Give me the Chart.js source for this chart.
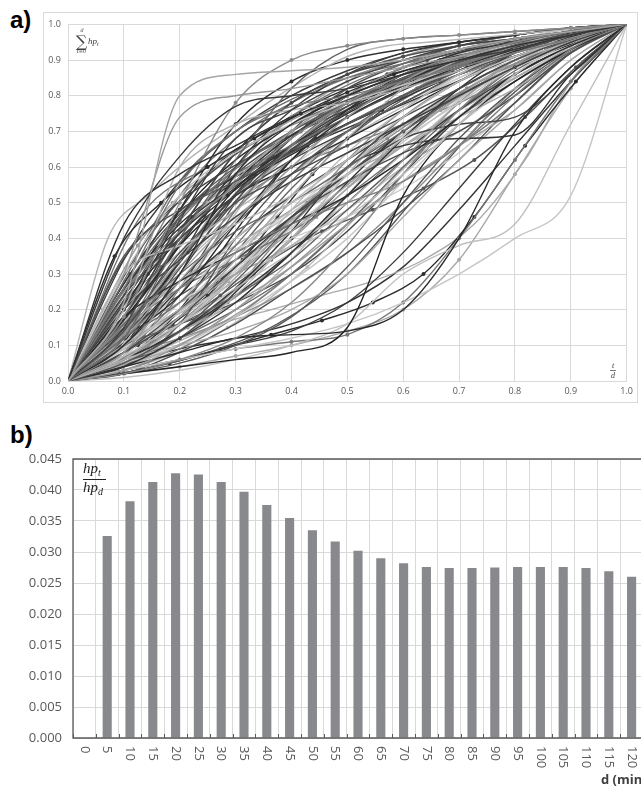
<!DOCTYPE html>
<html>
<head>
<meta charset="utf-8">
<script src="https://cdn.jsdelivr.net/npm/chart.js@4.4.0/dist/chart.umd.min.js"></script>
<style>
html, body { margin: 0; padding: 0; background: #fff; }
body { width: 641px; height: 788px; overflow: hidden; position: relative; }
.lbl { position: absolute; font-family: "Liberation Sans", Arial, sans-serif; font-weight: bold; font-size: 24px; color: #000; }
#wrapA { position: absolute; left: 43px; top: 12px; width: 595px; height: 391px; }
#wrapB { position: absolute; left: 0; top: 440px; width: 680px; height: 348px; }
</style>
</head>
<body>
<div class="lbl" style="left:10px;top:6px">a)</div>
<div class="lbl" style="left:10px;top:421px">b)</div>
<div id="wrapA"><canvas id="chartA" width="595" height="391"></canvas></div>
<div id="wrapB"><canvas id="chartB" width="680" height="348"></canvas></div>
<script>
// ---- panel a : cumulative curves, each sampled at t/d = i/n (n = length - 1)
const axisTicksA = [0, 0.1, 0.2, 0.3, 0.4, 0.5, 0.6, 0.7, 0.8, 0.9, 1.0];

const curves = [
    [0, .22, .80, .86, .87, .88, .90, .93, .96, .98, 1],
    [0, .44, .58, .66, .74, .80, .86, .90, .94, .97, 1],
    [0, .40, .63, .77, .80, .82, .86, .90, .93, .97, 1],
    [0, .30, .74, .80, .82, .85, .88, .91, .94, .97, 1],
    [0, .26, .55, .70, .77, .80, .84, .88, .92, .96, 1],
    [0, .18, .50, .78, .90, .94, .96, .97, .98, .99, 1],
    [0, .12, .40, .62, .82, .93, .96, .97, .98, .99, 1],
    [0, .15, .45, .68, .76, .84, .90, .94, .96, .98, 1],
    [0, .20, .60, .72, .76, .78, .82, .87, .92, .96, 1],
    [0, .35, .48, .56, .64, .72, .80, .87, .92, .96, 1],
    [0, .25, .42, .55, .68, .78, .86, .91, .95, .98, 1],
    [0, .10, .30, .58, .72, .80, .86, .92, .95, .98, 1],
    [0, .08, .28, .45, .60, .74, .84, .91, .95, .98, 1],
    [0, .30, .38, .44, .52, .62, .74, .84, .91, .96, 1],
    [0, .14, .36, .50, .58, .66, .74, .82, .90, .96, 1],
    [0, .12, .22, .38, .56, .70, .80, .88, .94, .97, 1],
    [0, .06, .18, .34, .52, .68, .82, .90, .95, .98, 1],
    [0, .20, .34, .46, .56, .64, .72, .80, .88, .95, 1],
    [0, .09, .22, .40, .50, .58, .68, .78, .88, .95, 1],
    [0, .16, .30, .42, .50, .60, .70, .80, .88, .95, 1],
    [0, .05, .14, .28, .44, .60, .74, .84, .92, .97, 1],
    [0, .10, .20, .30, .42, .55, .68, .80, .90, .96, 1],
    [0, .04, .12, .22, .36, .52, .68, .82, .92, .97, 1],
    [0, .07, .16, .26, .36, .46, .58, .72, .86, .95, 1],
    [0, .12, .26, .36, .44, .50, .56, .66, .80, .93, 1],
    [0, .03, .10, .20, .32, .46, .62, .78, .90, .96, 1],
    [0, .18, .28, .36, .44, .52, .62, .74, .86, .94, 1],
    [0, .06, .12, .24, .40, .58, .74, .84, .90, .95, 1],
    [0, .08, .20, .34, .46, .56, .64, .70, .80, .92, 1],
    [0, .02, .06, .12, .22, .38, .58, .76, .88, .95, 1],
    [0, .05, .10, .18, .28, .40, .56, .72, .86, .95, 1],
    [0, .10, .16, .24, .34, .48, .62, .76, .88, .96, 1],
    [0, .04, .08, .12, .13, .14, .20, .40, .70, .88, 1],
    [0, .02, .04, .06, .08, .15, .52, .72, .84, .93, 1],
    [0, .01, .03, .06, .10, .16, .30, .38, .44, .72, 1],
    [0, .03, .06, .09, .12, .16, .22, .30, .40, .52, 1],
    [0, .03, .06, .09, .11, .13, .22, .40, .62, .84, 1],
    [0, .06, .14, .26, .42, .60, .66, .68, .69, .86, 1],
    [0, .08, .18, .32, .46, .58, .68, .72, .74, .86, 1],
    [0, .06, .10, .14, .20, .30, .46, .62, .76, .90, 1],
    [0, .12, .24, .44, .62, .74, .82, .88, .93, .97, 1],
    [0, .16, .34, .56, .70, .80, .88, .93, .96, .98, 1],
    [0, .22, .46, .60, .70, .78, .85, .90, .94, .97, 1],
    [0, .30, .52, .64, .72, .78, .83, .88, .93, .97, 1],
    [0, .08, .24, .48, .66, .78, .86, .92, .96, .98, 1],
    [0, .05, .16, .30, .48, .64, .76, .86, .93, .97, 1],
    [0, .10, .26, .40, .52, .62, .72, .82, .90, .96, 1],
    [0, .14, .28, .38, .48, .58, .66, .74, .82, .92, 1],
    [0, .04, .16, .40, .58, .70, .78, .86, .92, .97, 1],
    [0, .09, .14, .22, .32, .44, .56, .66, .76, .90, 1],
    [0, .02, .08, .16, .26, .36, .48, .62, .78, .92, 1],
    [0, .07, .22, .36, .48, .60, .72, .82, .88, .94, 1],
    [0, .13, .32, .48, .62, .72, .80, .86, .91, .96, 1],
    [0, .24, .40, .52, .62, .70, .78, .86, .92, .97, 1],
    [0, .11, .19, .28, .38, .50, .64, .78, .90, .97, 1],
    [0, .05, .12, .20, .30, .44, .60, .74, .84, .93, 1],
    [0, .17, .38, .52, .60, .68, .76, .84, .91, .96, 1],
    [0, .08, .18, .28, .38, .48, .60, .72, .84, .94, 1],
    [0, .03, .09, .18, .30, .44, .56, .66, .78, .92, 1],
    [0, .20, .36, .48, .58, .70, .80, .88, .94, .98, 1],
    [0, .06, .14, .24, .36, .50, .64, .76, .86, .94, 1],
    [0, .12, .30, .46, .56, .64, .72, .80, .88, .95, 1],
    [0, .02, .05, .10, .18, .32, .50, .68, .82, .93, 1],
    [0, .09, .26, .44, .60, .70, .78, .85, .91, .96, 1],
    [0, .15, .26, .34, .42, .52, .64, .76, .87, .95, 1],
    [0, .04, .10, .20, .34, .52, .70, .82, .90, .96, 1],
    [0, .18, .42, .64, .78, .86, .90, .93, .96, .98, 1],
    [0, .07, .12, .18, .26, .36, .50, .66, .82, .94, 1],
    [0, .10, .22, .32, .40, .46, .54, .64, .78, .92, 1],
    [0, .03, .06, .10, .14, .22, .36, .54, .72, .88, 1],
    [0, .13, .22, .30, .38, .48, .60, .70, .80, .92, 1],
    [0, .26, .46, .58, .66, .74, .82, .88, .93, .97, 1],
    [0, .06, .20, .36, .50, .62, .74, .84, .91, .96, 1],
    [0, .11, .34, .54, .66, .76, .84, .90, .94, .97, 1],
    [0, .04, .14, .26, .40, .54, .66, .76, .85, .93, 1],
    // curves of other lengths (shorter / longer storms)
    [0, .30, .52, .66, .78, .88, .95, 1],
    [0, .10, .28, .50, .68, .82, .93, 1],
    [0, .05, .15, .32, .55, .76, .90, 1],
    [0, .40, .62, .74, .83, .90, .96, 1],
    [0, .45, .70, .84, .93, 1],
    [0, .12, .40, .70, .88, 1],
    [0, .20, .45, .66, .85, 1],
    [0, .28, .46, .58, .68, .76, .84, .90, .95, 1],
    [0, .06, .16, .30, .46, .62, .76, .87, .95, 1],
    [0, .14, .36, .56, .70, .80, .88, .93, .97, 1],
    [0, .18, .30, .40, .52, .64, .76, .86, .94, 1],
    [0, .35, .50, .60, .68, .75, .81, .86, .90, .93, .96, .98, 1],
    [0, .05, .12, .22, .34, .48, .60, .70, .78, .85, .91, .96, 1],
    [0, .15, .32, .48, .60, .70, .78, .84, .89, .93, .96, .98, 1],
    [0, .08, .20, .36, .54, .68, .78, .85, .90, .94, .97, .99, 1],
    [0, .10, .22, .36, .50, .62, .72, .80, .86, .90, .93, .95, .97, .99, 1],
    [0, .04, .09, .15, .22, .30, .40, .52, .64, .74, .82, .88, .93, .97, 1],
    [0, .40, .52, .62, .70, .78, .85, .91, .94, .95, .96, .97, .98, .99, 1],
    [0, .36, .58, .74, .86, .95, 1],
    [0, .08, .22, .44, .70, .88, 1],
    [0, .22, .48, .66, .78, .86, .92, .97, 1],
    [0, .12, .25, .40, .55, .70, .84, .94, 1],
    [0, .03, .08, .16, .30, .52, .74, .90, 1],
    [0, .45, .60, .70, .78, .85, .91, .96, 1],
    [0, .20, .48, .72, .84, .90, .93, .95, .97, .99, 1],
    [0, .16, .42, .64, .78, .86, .91, .94, .96, .98, 1],
    [0, .28, .56, .70, .79, .85, .89, .92, .95, .98, 1],
    [0, .10, .34, .60, .76, .86, .92, .95, .97, .99, 1],
    [0, .06, .20, .42, .62, .76, .86, .92, .96, .98, 1],
    [0, .24, .40, .52, .64, .74, .82, .89, .94, .98, 1],
    [0, .32, .48, .58, .66, .73, .79, .85, .90, .94, .97, 1],
    [0, .07, .17, .28, .40, .52, .63, .73, .82, .90, .96, 1],
    [0, .12, .30, .48, .62, .72, .80, .86, .91, .95, .98, 1],
    [0, .05, .10, .16, .24, .34, .46, .58, .68, .76, .82, .87, .91, .94, .96, .98, 1],
    [0, .20, .38, .50, .58, .65, .71, .76, .80, .84, .87, .90, .93, .95, .97, .99, 1],
    [0, .50, .78, .92, 1],
    [0, .02, .05, .09, .13, .17, .22, .30, .46, .66, .84, 1],
    [0, .04, .10, .16, .20, .24, .28, .34, .44, .62, .86, 1],
    [0, .06, .14, .24, .34, .42, .48, .54, .62, .74, .88, 1],
    [0, .25, .45, .55, .62, .68, .74, .80, .86, .92, .97, 1],
    [0, .30, .50, .60, .68, .76, .84, .90, .95, 1],
    [0, .18, .46, .62, .72, .80, .86, .91, .95, .98, 1],
    [0, .14, .40, .60, .74, .83, .89, .93, .96, .98, 1],
    [0, .08, .30, .52, .68, .80, .88, .93, .96, .98, 1],
    [0, .22, .36, .50, .64, .76, .85, .91, .95, .98, 1],
    [0, .12, .28, .44, .58, .70, .80, .88, .93, .97, 1],
    [0, .06, .18, .36, .54, .68, .79, .87, .93, .97, 1],
    [0, .10, .20, .32, .46, .60, .72, .82, .90, .96, 1],
    [0, .16, .32, .46, .58, .68, .77, .85, .92, .97, 1],
    [0, .20, .42, .58, .69, .77, .84, .90, .94, .97, 1],
    [0, .04, .12, .26, .44, .62, .76, .86, .93, .97, 1],
    [0, .26, .44, .56, .66, .75, .83, .89, .94, .97, 1],
    [0, .14, .24, .34, .46, .58, .70, .80, .88, .95, 1],
    [0, .09, .18, .30, .44, .58, .70, .80, .88, .95, 1],
    [0, .34, .56, .70, .80, .87, .92, .95, .97, .99, 1],
    [0, .02, .04, .07, .10, .14, .20, .34, .58, .82, 1],
    [0, .05, .09, .12, .16, .22, .32, .48, .66, .84, 1],
    [0, .12, .34, .50, .60, .66, .72, .78, .86, .94, 1],
    [0, .07, .26, .50, .70, .82, .89, .94, .97, .99, 1],
    [0, .18, .38, .58, .74, .84, .91, .95, .97, .99, 1],
    [0, .10, .16, .22, .30, .42, .58, .74, .86, .94, 1],
    [0, .30, .58, .72, .82, .88, .92, .96, 1],
    [0, .15, .35, .52, .66, .77, .85, .91, .95, .98, 1],
    [0, .24, .52, .68, .78, .85, .90, .94, .97, .99, 1]
];

const curveGreys = [
    '#a6a6a6', '#333333', '#3a3a3a', '#999999', '#777777', '#8c8c8c', '#666666', '#444444',
    '#b0b0b0', '#555555', '#888888', '#2e2e2e', '#999999', '#bbbbbb', '#4d4d4d', '#707070',
    '#aaaaaa', '#3d3d3d', '#c4c4c4', '#666666', '#555555', '#a0a0a0', '#333333', '#bdbdbd',
    '#808080', '#999999', '#2b2b2b', '#b5b5b5', '#4a4a4a', '#8a8a8a', '#c8c8c8', '#606060',
    '#2b2b2b', '#222222', '#c0c0c0', '#c6c6c6', '#777777', '#333333', '#444444', '#aaaaaa',
    '#2f2f2f', '#9a9a9a', '#5a5a5a', '#c2c2c2', '#777777', '#bbbbbb', '#3a3a3a', '#a8a8a8',
    '#555555', '#9e9e9e', '#4f4f4f', '#d0d0d0', '#8f8f8f', '#444444', '#b8b8b8', '#686868',
    '#2a2a2a', '#c6c6c6', '#7a7a7a', '#b0b0b0', '#393939', '#a3a3a3', '#595959', '#cfcfcf',
    '#6e6e6e', '#b3b3b3', '#464646', '#8c8c8c', '#cccccc', '#3c3c3c', '#999999', '#6a6a6a',
    '#bfbfbf', '#2d2d2d', '#a6a6a6',
    '#2e2e2e', '#8a8a8a', '#bbbbbb', '#555555', '#777777', '#333333', '#aaaaaa', '#3a3a3a',
    '#999999', '#4d4d4d', '#c0c0c0', '#2b2b2b', '#a0a0a0', '#666666', '#bdbdbd', '#444444',
    '#888888', '#b5b5b5', '#3c3c3c', '#9e9e9e', '#2f2f2f', '#c8c8c8', '#5a5a5a', '#777777',
    '#303030', '#505050', '#6a6a6a', '#3a3a3a', '#2a2a2a', '#bbbbbb', '#454545', '#cacaca',
    '#7a7a7a', '#333333', '#999999', '#aaaaaa', '#2b2b2b', '#aaaaaa', '#555555',
    '#333333', '#555555', '#2a2a2a', '#777777', '#444444', '#999999', '#3a3a3a', '#666666',
    '#2e2e2e', '#bbbbbb', '#4a4a4a', '#8a8a8a', '#2b2b2b', '#555555', '#a0a0a0', '#3c3c3c',
    '#aaaaaa', '#333333', '#777777', '#505050', '#9a9a9a', '#444444', '#2f2f2f', '#5e5e5e',
    '#7a7a7a'
];

const markedCurves = [5, 36, 41, 75, 76, 77, 79, 80, 82, 83, 85, 86, 88, 90, 91, 93, 96, 99, 100,
    106, 108, 109, 110, 111, 113, 115, 130, 132, 134];

// ---- panel b : bars
const durationLabels = ['0', '5', '10', '15', '20', '25', '30', '35', '40', '45', '50', '55', '60',
    '65', '70', '75', '80', '85', '90', '95', '100', '105', '110', '115', '120'];
const ratioValues = [null, 0.0326, 0.0382, 0.0413, 0.0427, 0.0425, 0.0413, 0.0397, 0.0376, 0.0355,
    0.0335, 0.0317, 0.0302, 0.0290, 0.0282, 0.0276, 0.0274, 0.0274, 0.0275, 0.0276, 0.0276,
    0.0276, 0.0274, 0.0269, 0.0260];

const gridGrey = '#d9d9d9';
const tickGrey = '#595959';

// border, sum label and t/d label of panel a
const panelAExtras = {
    id: 'panelAExtras',
    beforeDraw(chart) {
        const ctx = chart.ctx;
        ctx.save();
        ctx.strokeStyle = gridGrey;
        ctx.lineWidth = 1;
        ctx.strokeRect(0.5, 0.5, chart.width - 1, chart.height - 1);
        ctx.restore();
    },
    afterDraw(chart) {
        const ctx = chart.ctx;
        ctx.save();
        ctx.fillStyle = '#404040';
        ctx.textAlign = 'center';
        ctx.textBaseline = 'alphabetic';
        ctx.font = 'italic 5px "DejaVu Serif"';
        ctx.fillText('d', 39, 20);
        ctx.font = '16px "DejaVu Serif"';
        ctx.fillText('\u2211', 38.5, 35);
        ctx.font = 'italic 5px "DejaVu Serif"';
        ctx.fillText('t=0', 38.5, 41);
        ctx.textAlign = 'left';
        ctx.font = 'italic 9px "Liberation Serif"';
        ctx.fillText('hp', 45, 32);
        ctx.font = 'italic 6px "Liberation Serif"';
        ctx.fillText('t', 54, 34);

        // t/d at the end of the x axis
        ctx.textAlign = 'center';
        ctx.font = 'italic 8px "Liberation Serif"';
        ctx.fillText('t', 570, 356);
        ctx.fillText('d', 570, 366);
        ctx.strokeStyle = '#404040';
        ctx.lineWidth = 0.7;
        ctx.beginPath();
        ctx.moveTo(567, 358.5);
        ctx.lineTo(573, 358.5);
        ctx.stroke();
        ctx.restore();
    }
};

const datasetsA = curves.map((vals, k) => ({
    data: vals.map((v, i) => ({ x: i / (vals.length - 1), y: v })),
    borderColor: curveGreys[k],
    backgroundColor: curveGreys[k],
    borderWidth: 1.4,
    pointRadius: markedCurves.includes(k) ? 2 : 0,
    pointBorderWidth: 0,
    cubicInterpolationMode: 'monotone',
    fill: false
}));

new Chart(document.getElementById('chartA'), {
    type: 'line',
    data: { datasets: datasetsA },
    options: {
        responsive: false,
        animation: false,
        events: [],
        layout: { padding: { top: 11, right: 11, left: 0, bottom: 0 } },
        plugins: { legend: { display: false }, tooltip: { enabled: false } },
        scales: {
            x: {
                type: 'linear', min: 0, max: 1,
                afterBuildTicks: s => { s.ticks = axisTicksA.map(v => ({ value: v })); },
                ticks: { padding: 5, color: tickGrey, font: { family: 'Open Sans', size: 9 }, callback: v => v.toFixed(1) },
                grid: { color: gridGrey, drawTicks: false },
                border: { color: gridGrey },
                afterFit: s => { s.height = 22; }
            },
            y: {
                type: 'linear', min: 0, max: 1,
                afterBuildTicks: s => { s.ticks = axisTicksA.map(v => ({ value: v })); },
                ticks: { padding: 7, color: tickGrey, font: { family: 'Open Sans', size: 9 }, callback: v => v.toFixed(1) },
                grid: { color: gridGrey, drawTicks: false },
                border: { color: gridGrey },
                afterFit: s => { s.width = 25; }
            }
        }
    },
    plugins: [panelAExtras]
});

// frame, rotated x labels, fraction and axis title of panel b
const panelBExtras = {
    id: 'panelBExtras',
    afterDraw(chart) {
        const ctx = chart.ctx;
        const area = chart.chartArea;
        const xs = chart.scales.x;
        const half = (xs.getPixelForValue(1) - xs.getPixelForValue(0)) / 2;
        ctx.save();
        ctx.strokeStyle = tickGrey;
        ctx.lineWidth = 1.3;
        ctx.beginPath();
        ctx.moveTo(area.right + 5, area.top);
        ctx.lineTo(area.left, area.top);
        ctx.lineTo(area.left, area.bottom);
        ctx.lineTo(area.right + 5, area.bottom);
        ctx.stroke();

        ctx.lineWidth = 1;
        ctx.beginPath();
        for (let i = 0; i <= durationLabels.length; i++) {
            const bx = Math.round(xs.getPixelForValue(i) - half) + 0.5;
            ctx.moveTo(bx, area.bottom - 4);
            ctx.lineTo(bx, area.bottom);
        }
        ctx.stroke();

        ctx.fillStyle = tickGrey;
        ctx.font = '13px "Open Sans"';
        ctx.textAlign = 'left';
        ctx.textBaseline = 'middle';
        for (let i = 0; i < durationLabels.length; i++) {
            ctx.save();
            ctx.translate(xs.getPixelForValue(i), area.bottom + 8);
            ctx.rotate(Math.PI / 2);
            ctx.fillText(durationLabels[i], 0, 0);
            ctx.restore();
        }

        // hp_t / hp_d
        ctx.fillStyle = '#222';
        ctx.textBaseline = 'alphabetic';
        ctx.font = 'italic 15px "Liberation Serif"';
        ctx.fillText('hp', 83, 33);
        ctx.fillText('hp', 83, 52);
        ctx.font = 'italic 10px "Liberation Serif"';
        ctx.fillText('t', 98, 36);
        ctx.fillText('d', 98, 55);
        ctx.strokeStyle = '#222';
        ctx.lineWidth = 1;
        ctx.beginPath();
        ctx.moveTo(83, 39.5);
        ctx.lineTo(106, 39.5);
        ctx.stroke();

        ctx.fillStyle = '#404040';
        ctx.font = 'bold 13px "Open Sans"';
        ctx.fillText('d (min)', 601, 344);
        ctx.restore();
    }
};

new Chart(document.getElementById('chartB'), {
    type: 'bar',
    data: {
        labels: durationLabels,
        datasets: [{
            data: ratioValues,
            backgroundColor: '#88898d',
            borderWidth: 0,
            barPercentage: 0.4,
            categoryPercentage: 1.0
        }]
    },
    options: {
        responsive: false,
        animation: false,
        events: [],
        layout: { padding: { top: 19, right: 37, left: 0, bottom: 0 } },
        plugins: { legend: { display: false }, tooltip: { enabled: false } },
        scales: {
            x: {
                ticks: { display: false },
                grid: { color: gridGrey, drawTicks: false, offset: true },
                border: { display: false },
                afterFit: s => { s.height = 50; }
            },
            y: {
                min: 0, max: 0.045,
                ticks: { stepSize: 0.005, padding: 11, color: tickGrey, font: { family: 'Open Sans', size: 13 }, callback: v => v.toFixed(3) },
                grid: { color: gridGrey, drawTicks: false },
                border: { display: false },
                afterFit: s => { s.width = 73; }
            }
        }
    },
    plugins: [panelBExtras]
});
</script>
</body>
</html>
